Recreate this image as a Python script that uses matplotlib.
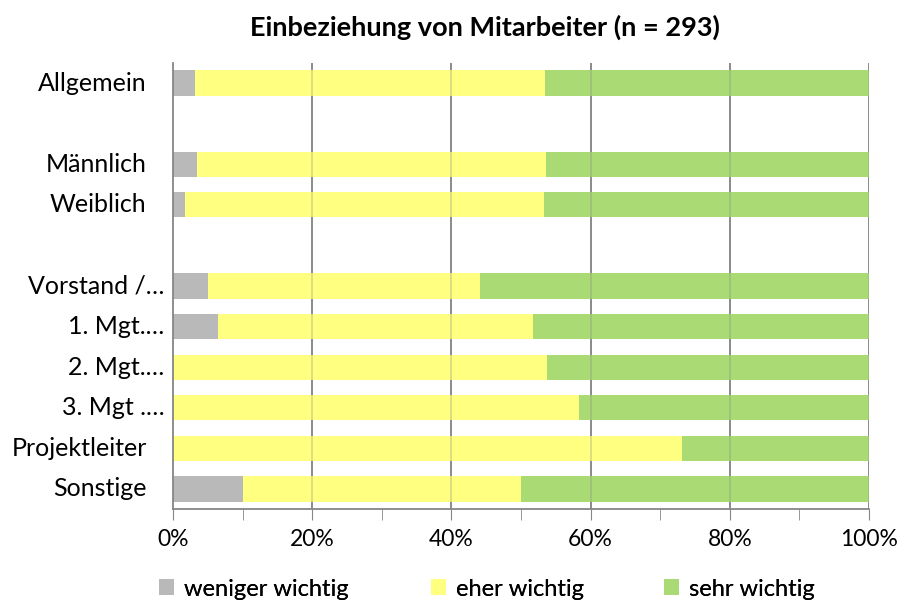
#!/usr/bin/env python3

import matplotlib.pyplot as plt
import matplotlib.transforms as mtransforms
from matplotlib.patches import Patch

plt.rcParams["font.family"] = ["Lato", "DejaVu Sans"]

# rows from top to bottom, "" = empty spacer row
categories = ["Allgemein", "", "Männlich", "Weiblich", "",
              "Vorstand /…", "1. Mgt.…", "2. Mgt.…", "3. Mgt .…",
              "Projektleiter", "Sonstige"]
weniger = [3.1, 0, 3.5, 1.7, 0, 5.0, 6.4, 0.0, 0.0, 0.0, 10.0]
eher = [50.4, 0, 50.1, 51.6, 0, 39.1, 45.3, 53.7, 58.3, 73.2, 40.0]
sehr = [46.5, 0, 46.4, 46.7, 0, 55.9, 48.3, 46.3, 41.7, 26.8, 50.0]

series_labels = ["weniger wichtig", "eher wichtig", "sehr wichtig"]
colors = ["#B9B9B9", "#FFFF80", "#A9DA74"]


def main():
    fig = plt.figure(figsize=(9.03, 6.03), dpi=100)
    ax = fig.add_axes([0.1916, 0.1554, 0.7707, 0.7406])

    y = list(range(len(categories)))
    left = [0.0] * len(categories)
    for vals, col in zip([weniger, eher, sehr], colors):
        ax.barh(y, vals, left=left, height=0.62, color=col, zorder=2)
        left = [a + b for a, b in zip(left, vals)]

    ax.set_ylim(len(categories) - 0.5, -0.5)
    ax.set_xlim(0, 100)
    ax.set_yticks([])

    # category labels; Excel leaves the truncated ones closer to the axis
    trans = mtransforms.blended_transform_factory(ax.transAxes, ax.transData)
    for i, name in enumerate(categories):
        xpos = -0.0125 if name.endswith("…") else -0.0378
        ax.text(xpos, i, name, transform=trans, ha="right", va="center",
                fontsize=18)

    ax.set_xticks(range(0, 101, 20))
    ax.set_xticklabels([f"{v}%" for v in range(0, 101, 20)], fontsize=16.5)
    ax.set_xticks(range(0, 101, 10), minor=True)
    ax.tick_params(axis="x", which="both", length=8, color="#868686",
                   direction="out", pad=6)

    for v in range(20, 101, 20):
        ax.axvline(v, color="#868686", lw=1.3, zorder=1)
        ax.axvline(v, color="#868686", lw=1.3, alpha=0.3, zorder=3)

    for side in ["top", "right"]:
        ax.spines[side].set_visible(False)
    for side in ["left", "bottom"]:
        ax.spines[side].set_color("#868686")
        ax.spines[side].set_linewidth(1.3)

    fig.text(485 / 903, 1 - 27 / 603, "Einbeziehung von Mitarbeiter (n = 293)",
             ha="center", va="center", fontsize=19.5, fontweight="bold")

    # one legend per entry so each sits where Excel put it
    legend_x = [159, 431, 664]
    for lx, lab, col in zip(legend_x, series_labels, colors):
        leg = fig.legend([Patch(facecolor=col, edgecolor="none")], [lab],
                         loc="center left",
                         bbox_to_anchor=(lx / 903, 1 - 589 / 603),
                         frameon=False, fontsize=17, borderpad=0,
                         borderaxespad=0, handlelength=0.64,
                         handleheight=0.64, handletextpad=0.42)
        fig.add_artist(leg)

    fig.savefig("out.png", dpi=100)
    plt.close(fig)


if __name__ == "__main__":
    main()
